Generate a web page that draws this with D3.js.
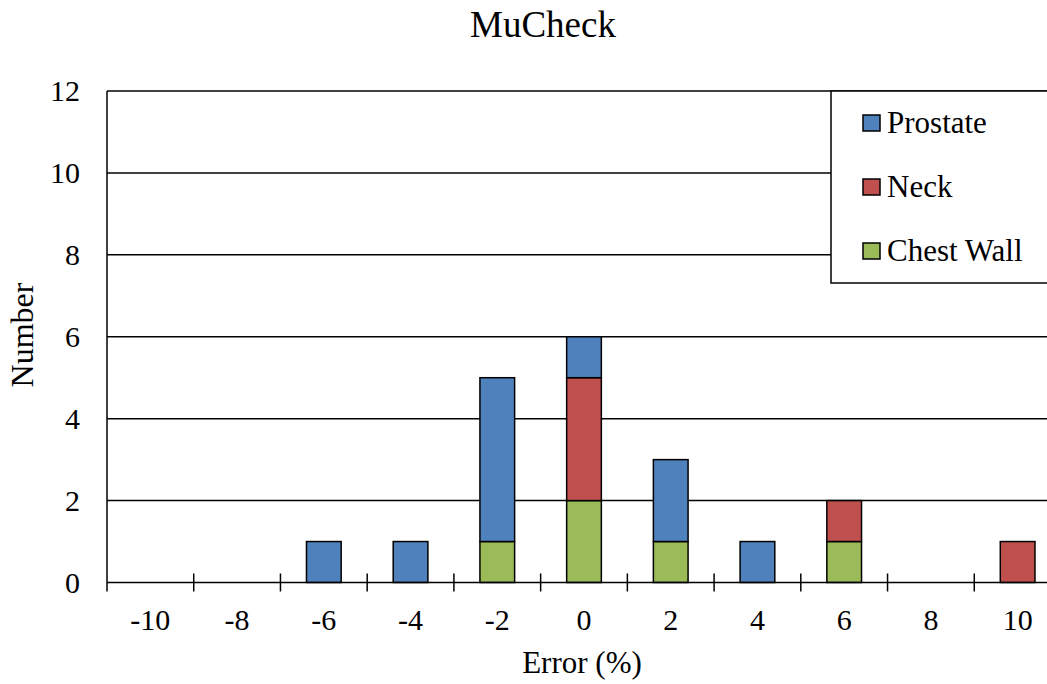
<!DOCTYPE html>
<html><head><meta charset="utf-8">
<script src="https://cdn.jsdelivr.net/npm/d3@7"></script>
<style>body{margin:0;background:#fff}svg{display:block}text{font-family:"Liberation Serif","Times New Roman",serif;fill:#000}</style>
</head><body><svg id="c" width="1047" height="684"></svg>
<script>
const categories = ["-10","-8","-6","-4","-2","0","2","4","6","8","10"];
const prostate  = [0,0,1,1,4,1,2,1,0,0,0];
const neck      = [0,0,0,0,0,3,0,0,1,0,1];
const chestWall = [0,0,0,0,1,2,1,0,1,0,0];
const yTicks = [0,2,4,6,8,10,12];
const seriesNames = ["Chest Wall","Neck","Prostate"];
const legendOrder = ["Prostate","Neck","Chest Wall"];
const colors = {"Prostate":"#4F81BD","Neck":"#C0504D","Chest Wall":"#9BBB59"};

(function(){
const rows = categories.map((c,i)=>({cat:c,"Prostate":prostate[i],"Neck":neck[i],"Chest Wall":chestWall[i]}));
const svg = d3.select("#c");
const pL=107, pR=1061, pT=91, pB=582.5;
const x = d3.scaleBand().domain(categories).range([pL,pR]).paddingInner(0.6).paddingOuter(0.3);
const y = d3.scaleLinear().domain([0,12]).range([pB,pT]);
const step = x.step();

// gridlines
svg.append("g").selectAll("line").data(yTicks.filter(d=>d>0)).join("line")
  .attr("x1",pL).attr("x2",pR).attr("y1",d=>y(d)).attr("y2",d=>y(d))
  .attr("stroke","#000").attr("stroke-width",1.5);

// bars
const stacked = d3.stack().keys(seriesNames)(rows);
svg.append("g").selectAll("g").data(stacked).join("g")
  .attr("fill",d=>colors[d.key])
  .selectAll("rect").data(d=>d.filter(p=>p[1]-p[0]>0)).join("rect")
  .attr("x",d=>x(d.data.cat)).attr("width",x.bandwidth())
  .attr("y",d=>y(d[1])).attr("height",d=>y(d[0])-y(d[1]))
  .attr("stroke","#000").attr("stroke-width",1.5);

// y axis line
svg.append("line").attr("x1",pL).attr("x2",pL).attr("y1",pT).attr("y2",pB+9)
  .attr("stroke","#000").attr("stroke-width",1.5);
// x axis line
svg.append("line").attr("x1",pL).attr("x2",pR).attr("y1",pB).attr("y2",pB)
  .attr("stroke","#000").attr("stroke-width",1.5);
// x ticks at category boundaries
const bounds = d3.range(categories.length+1).map(i=>x.range()[0]+i*step);
svg.append("g").selectAll("line").data(bounds.slice(1)).join("line")
  .attr("x1",d=>d).attr("x2",d=>d).attr("y1",pB-9).attr("y2",pB+9)
  .attr("stroke","#000").attr("stroke-width",1.5);

// tick labels
svg.append("g").selectAll("text").data(categories).join("text")
  .attr("x",d=>x(d)+x.bandwidth()/2).attr("y",630).attr("text-anchor","middle")
  .attr("font-size",30).text(d=>d);
svg.append("g").selectAll("text").data(yTicks).join("text")
  .attr("x",80).attr("y",d=>y(d)+10).attr("text-anchor","end")
  .attr("font-size",30).text(d=>d);

// titles
svg.append("text").attr("x",543).attr("y",37).attr("text-anchor","middle").attr("font-size",37).text("MuCheck");
svg.append("text").attr("x",582).attr("y",673).attr("text-anchor","middle").attr("font-size",31).text("Error (%)");
svg.append("text").attr("transform","translate(33,335) rotate(-90)").attr("text-anchor","middle").attr("font-size",32).text("Number");

// legend
svg.append("rect").attr("x",831).attr("y",91).attr("width",240).attr("height",192)
  .attr("fill","#fff").attr("stroke","#000").attr("stroke-width",1.5);
const lg = svg.append("g").selectAll("g").data(legendOrder).join("g")
  .attr("transform",(d,i)=>`translate(863,${115+i*64})`);
lg.append("rect").attr("width",17).attr("height",16).attr("fill",d=>colors[d]).attr("stroke","#000").attr("stroke-width",1.5);
lg.append("text").attr("x",24).attr("y",18).attr("font-size",31).text(d=>d);
})();
</script></body></html>
